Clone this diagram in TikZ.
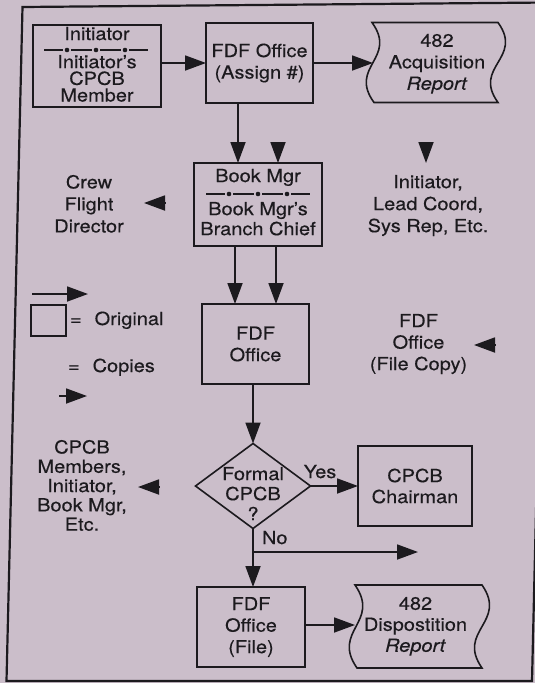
\documentclass[tikz,border=0pt]{standalone}
\usepackage{fontspec}
\setmainfont{TeX Gyre Heros}[FakeStretch=1.11,FakeBold=0.35]
\usetikzlibrary{arrows.meta,shapes.geometric}
\definecolor{bg}{RGB}{203,190,202}
\definecolor{ink}{RGB}{28,26,30}
\newcommand\sepline[2]{%
  \draw[sepln] (#1-52,#2) -- (#1-33,#2) (#1-25,#2) -- (#1-4,#2) (#1+4,#2) -- (#1+25,#2) (#1+33,#2) -- (#1+52,#2);
  \fill[ink] (#1-29,#2) circle (2.3pt) (#1,#2) circle (2.3pt) (#1+29,#2) circle (2.3pt);}
\begin{document}
\begin{tikzpicture}[x=1pt,y=-1pt,
  every node/.style={text=ink,inner sep=0pt,outer sep=0pt,font=\fontsize{18}{21.5}\selectfont},
  box/.style={draw=ink,line width=1.6pt,align=center},
  lbl/.style={align=center},
  arr/.style={draw=ink,line width=1.8pt,-{Triangle[length=21pt,width=15pt]}},
  sepln/.style={draw=ink,line width=1.3pt},
  tape/.style={draw=ink,line width=1.6pt}]
\fill[bg] (0,0) rectangle (535,683);
\useasboundingbox (0,0) rectangle (535,683);
\begin{scope}
  \clip (0,0) rectangle (535,683);
  \draw[ink,line width=2.2pt] (22.5,7) -- (548,2.5) -- (532,681) -- (6.5,681) -- cycle;
\end{scope}

% Initiator box
\node[box,minimum width=128pt,minimum height=82pt] (init) at (97,66) {};
\node[anchor=base] (initA) at (97,40) {Initiator};
\sepline{96}{50}
\node[lbl,anchor=north,font=\fontsize{18}{16.7}\selectfont] (initB) at (97,55) {Initiator's\\CPCB\\Member};

% FDF Office (Assign #)
\node[box,minimum width=107pt,minimum height=80pt] (fdf1) at (259.5,63) {FDF Office\\(Assign \#)};

% 482 Acquisition Report
\draw[tape] (372,22.5) -- (498,22.5) .. controls (524,58.5) and (472,66.5) .. (498,102.5)
  -- (374,102.5) .. controls (348,66.5) and (398,58.5) .. (372,22.5) -- cycle;
\coordinate (acqL) at (373,63);
\node[lbl,anchor=north] (acqT) at (437,34) {482\\Acquisition\\\textit{Report}};

% Book Mgr box
\node[box,minimum width=128pt,minimum height=83pt] (book) at (258,204.5) {};
\node[anchor=base] (bookA) at (258,182) {Book Mgr};
\sepline{258}{194}
\node[lbl,anchor=north,font=\fontsize{18}{20}\selectfont] (bookB) at (258,202) {Book Mgr's\\Branch Chief};

% copies: Initiator, Lead Coord...
\node[lbl,anchor=north,font=\fontsize{18}{22}\selectfont] (lead) at (428,175) {Initiator,\\Lead Coord,\\Sys Rep, Etc.};
\coordinate (leadH) at (426,142);
\coordinate (leadT) at (426,163);
\draw[arr] (leadH) -- (leadT);

% Crew Flight Director
\node[lbl,anchor=north,font=\fontsize{18}{22}\selectfont] (crew) at (89,175) {Crew\\Flight\\Director};
\coordinate (crewH) at (165,203);
\coordinate (crewT) at (144,203);
\draw[arr] (crewH) -- (crewT);

% arrows top
\draw[arr] (fdf1.west -| init.east) -- (fdf1.west);
\draw[arr] (fdf1.east) -- (acqL);
\draw[arr] (fdf1.south -| 238,0) -- (book.north -| 238,0);
\coordinate (bookH) at (278,142);
\draw[arr] (bookH) -- (book.north -| bookH);

% Legend
\coordinate (legA1) at (32,294);
\coordinate (legA2) at (88,294);
\draw[arr] (legA1) -- (legA2);
\node[box,minimum width=35pt,minimum height=31pt] (legbox) at (48.5,320.5) {};
\node[anchor=base west] (legorig) at (70,325) {=\hspace{13pt}Original};
\node[anchor=base west] (legcopy) at (68,372) {=\hspace{13pt}Copies};
\coordinate (legC1) at (59,396);
\coordinate (legC2) at (87,396);
\draw[arr] (legC1) -- (legC2);

% FDF Office (middle)
\node[box,minimum width=107pt,minimum height=80pt] (fdf2) at (255.5,344) {FDF\\Office};
\draw[arr] (book.south -| 235,0) -- (fdf2.north -| 235,0);
\draw[arr] (book.south -| 276,0) -- (fdf2.north -| 276,0);

% FDF Office (File Copy)
\node[lbl,anchor=north] (filecopy) at (418.5,314) {FDF\\Office\\(File Copy)};
\coordinate (fcH) at (495,345);
\coordinate (fcT) at (474,345);
\draw[arr] (fcH) -- (fcT);

% Diamond
\node[draw=ink,line width=1.6pt,diamond,minimum width=115pt,minimum height=85pt] (dia) at (253,486) {};
\node[lbl,anchor=north,font=\fontsize{18}{20}\selectfont] (diaT) at (253,467) {Formal\\CPCB\\?};
\draw[arr] (fdf2.south -| dia.north) -- (dia.north);

% CPCB Chairman
\node[box,minimum width=114pt,minimum height=80pt,font=\fontsize{18}{21}\selectfont] (chair) at (415,486) {CPCB\\Chairman};
\draw[arr] (dia.east) -- (chair.west |- dia.east);
\node[anchor=base] (yes) at (320,478) {Yes};

% CPCB Members...
\node[lbl,anchor=north,font=\fontsize{18}{19.3}\selectfont] (members) at (82,440) {CPCB\\Members,\\Initiator,\\Book Mgr,\\Etc.};
\coordinate (memH) at (159,487);
\coordinate (memT) at (138,487);
\draw[arr] (memH) -- (memT);

% No branch
\node[anchor=base west] (no) at (262,544) {No};
\node[box,minimum width=108pt,minimum height=80pt] (fdf3) at (251,627) {FDF\\Office\\(File)};
\draw[arr] (dia.south) -- (fdf3.north -| dia.south);
\coordinate (noEnd) at (418,552);
\draw[arr] (dia.south |- noEnd) -- (noEnd);

% 482 Disposition Report
\draw[tape] (355,585) -- (482,585) .. controls (508,622.4) and (456,630.7) .. (482,668)
  -- (357,668) .. controls (331,630.7) and (381,622.4) .. (355,585) -- cycle;
\coordinate (dispL) at (355,625);
\node[lbl,anchor=north,font=\fontsize{18}{21}\selectfont] (dispT) at (415.5,597) {482\\Dispostition\\\textit{Report}};
\draw[arr] (fdf3.east |- dispL) -- (dispL);
\end{tikzpicture}
\end{document}
